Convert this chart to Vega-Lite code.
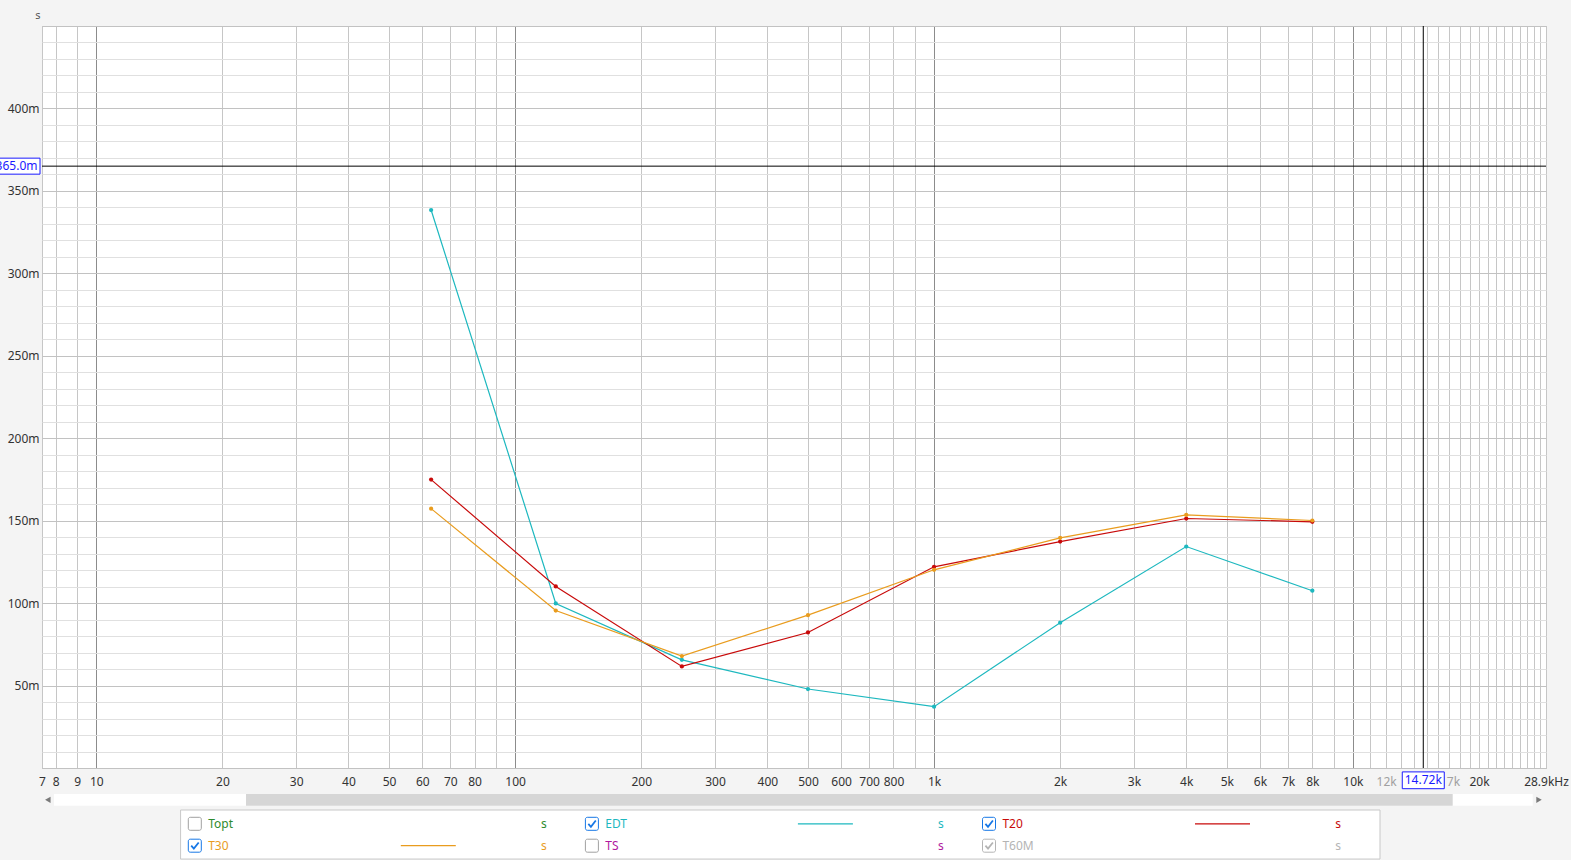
{
  "$schema": "https://vega.github.io/schema/vega-lite/v6.json",
  "autosize": {"type": "none"},
  "padding": {"left": 42, "top": 26, "right": 25, "bottom": 92},
  "width": 1504,
  "height": 742,
  "background": "#f4f4f4",
  "config": {
    "font": "Noto Sans",
    "view": {"fill": "white", "stroke": "#b4b4b4"}
  },
  "datasets": {
    "series": [
      {"series": "EDT", "freq": 63, "t": 0.3384},
      {"series": "EDT", "freq": 125, "t": 0.0998},
      {"series": "EDT", "freq": 250, "t": 0.0656},
      {"series": "EDT", "freq": 500, "t": 0.0479},
      {"series": "EDT", "freq": 1000, "t": 0.0372},
      {"series": "EDT", "freq": 2000, "t": 0.0881},
      {"series": "EDT", "freq": 4000, "t": 0.1343},
      {"series": "EDT", "freq": 8000, "t": 0.1075},
      {"series": "T20", "freq": 63, "t": 0.1749},
      {"series": "T20", "freq": 125, "t": 0.1101},
      {"series": "T20", "freq": 250, "t": 0.0616},
      {"series": "T20", "freq": 500, "t": 0.0822},
      {"series": "T20", "freq": 1000, "t": 0.1220},
      {"series": "T20", "freq": 2000, "t": 0.1373},
      {"series": "T20", "freq": 4000, "t": 0.1513},
      {"series": "T20", "freq": 8000, "t": 0.1493},
      {"series": "T30", "freq": 63, "t": 0.1573},
      {"series": "T30", "freq": 125, "t": 0.0955},
      {"series": "T30", "freq": 250, "t": 0.0679},
      {"series": "T30", "freq": 500, "t": 0.0927},
      {"series": "T30", "freq": 1000, "t": 0.1202},
      {"series": "T30", "freq": 2000, "t": 0.1396},
      {"series": "T30", "freq": 4000, "t": 0.1535},
      {"series": "T30", "freq": 8000, "t": 0.1501}
    ],
    "cursor": [{"freq": 14720, "t": 0.365}],
    "legend": [
      {"name": "Topt", "c": 0, "r": 0, "state": "off", "line": false},
      {"name": "T30", "c": 0, "r": 1, "state": "on", "line": true},
      {"name": "EDT", "c": 1, "r": 0, "state": "on", "line": true},
      {"name": "TS", "c": 1, "r": 1, "state": "off", "line": false},
      {"name": "T20", "c": 2, "r": 0, "state": "on", "line": true},
      {"name": "T60M", "c": 2, "r": 1, "state": "grey", "line": false}
    ],
    "blank": [{}]
  },
  "resolve": {"scale": {"x": "independent", "y": "independent", "color": "independent", "stroke": "independent"}},
  "layer": [
    {
      "layer": [
        {
          "data": {"name": "series"},
          "mark": {"type": "line", "strokeWidth": 1.2},
          "encoding": {
            "x": {
              "field": "freq", "type": "quantitative",
              "scale": {"type": "log", "domain": [7.42, 28900], "nice": false},
              "axis": {
                "values": [7.42, 8, 9, 10, 20, 30, 40, 50, 60, 70, 80, 90, 100, 200, 300, 400, 500, 600, 700, 800, 900, 1000, 2000, 3000, 4000, 5000, 6000, 7000, 8000, 9000, 10000, 11000, 12000, 13000, 14000, 15000, 16000, 17000, 18000, 19000, 20000, 21000, 22000, 23000, 24000, 25000, 26000, 27000, 28000, 28900],
                "tickCount": 1000,
                "labelExpr": "datum.value < 7.5 ? '7' : datum.value == 28900 ? '28.9kHz' : indexof([8,9,10,20,30,40,50,60,70,80,100,200,300,400,500,600,700,800,1000,2000,3000,4000,5000,6000,7000,8000,10000,12000,17000,20000], datum.value) >= 0 ? format(datum.value, '~s') : ''",
                "grid": true,
                "gridColor": {"condition": {"test": "datum.value == 10 || datum.value == 100 || datum.value == 1000 || datum.value == 10000", "value": "#8c8c8c"}, "value": "#c6c6c6"},
                "gridWidth": 1,
                "ticks": false,
                "tickSize": 0,
                "domain": false,
                "labelPadding": 8,
                "labelBaseline": "top",
                "labelFontSize": 12,
                "labelFont": "Noto Sans",
                "labelColor": {"condition": {"test": "datum.value == 12000 || datum.value == 17000", "value": "#a0a0a0"}, "value": "#333333"},
                "labelOverlap": false,
                "labelBound": false,
                "labelFlush": false,
                "title": null
              }
            },
            "y": {
              "field": "t", "type": "quantitative",
              "scale": {"domain": [0, 0.45], "nice": false, "zero": false},
              "axis": {
                "values": [0, 0.01, 0.02, 0.03, 0.04, 0.05, 0.06, 0.07, 0.08, 0.09, 0.1, 0.11, 0.12, 0.13, 0.14, 0.15, 0.16, 0.17, 0.18, 0.19, 0.2, 0.21, 0.22, 0.23, 0.24, 0.25, 0.26, 0.27, 0.28, 0.29, 0.3, 0.31, 0.32, 0.33, 0.34, 0.35, 0.36, 0.37, 0.38, 0.39, 0.4, 0.41, 0.42, 0.43, 0.44, 0.45],
                "tickCount": 1000,
                "labelExpr": "(datum.value > 0.001 && datum.value < 0.449 && abs(datum.value * 20 - round(datum.value * 20)) < 0.001) ? format(datum.value, '~s') : ''",
                "grid": true,
                "gridColor": {"condition": {"test": "abs(datum.value * 20 - round(datum.value * 20)) < 0.001", "value": "#c2c2c2"}, "value": "#e0e0e0"},
                "ticks": false,
                "tickSize": 0,
                "domain": false,
                "labelPadding": 3,
                "labelFontSize": 12,
                "labelFont": "Noto Sans",
                "labelColor": "#333333",
                "labelOverlap": false,
                "labelBound": false,
                "title": "s",
                "titleAngle": 0,
                "titleX": -4.5,
                "titleY": -11,
                "titleAlign": "center",
                "titleBaseline": "middle",
                "titleFontWeight": "normal",
                "titleFontSize": 11,
                "titleFont": "Noto Sans",
                "titleColor": "#555555"
              }
            },
            "color": {
              "field": "series", "type": "nominal",
              "scale": {"domain": ["EDT", "T20", "T30"], "range": ["#1db8bf", "#c80a0a", "#e99c1e"]},
              "legend": null
            }
          }
        },
        {
          "data": {"name": "series"},
          "mark": {"type": "point", "filled": true, "size": 18, "opacity": 1},
          "encoding": {
            "x": {"field": "freq", "type": "quantitative"},
            "y": {"field": "t", "type": "quantitative"},
            "color": {"field": "series", "type": "nominal", "legend": null}
          }
        },
        {
          "data": {"name": "cursor"},
          "mark": {"type": "rule", "color": "#000000", "strokeWidth": 1},
          "encoding": {"y": {"field": "t", "type": "quantitative"}}
        },
        {
          "data": {"name": "cursor"},
          "mark": {"type": "rule", "color": "#000000", "strokeWidth": 1},
          "encoding": {"x": {"field": "freq", "type": "quantitative"}}
        },
        {
          "data": {"name": "cursor"},
          "mark": {"type": "point", "shape": "M-1,-0.348H1V0.348H-1Z", "size": 2116, "filled": true, "fill": "white", "stroke": "#1a1aff", "strokeWidth": 1, "opacity": 1, "xOffset": -25},
          "encoding": {
            "x": {"datum": 7.42, "type": "quantitative"},
            "y": {"field": "t", "type": "quantitative"}
          }
        },
        {
          "data": {"name": "cursor"},
          "mark": {"type": "text", "align": "right", "baseline": "middle", "dx": -4.5, "fontSize": 12, "font": "Noto Sans", "color": "#1a1aff"},
          "encoding": {
            "x": {"datum": 7.42, "type": "quantitative"},
            "y": {"field": "t", "type": "quantitative"},
            "text": {"field": "t", "type": "quantitative", "format": ".4s"}
          }
        },
        {
          "data": {"name": "cursor"},
          "mark": {"type": "point", "shape": "M-1,-0.4H1V0.4H-1Z", "size": 1764, "filled": true, "fill": "white", "stroke": "#1a1aff", "strokeWidth": 1, "opacity": 1, "yOffset": 12.3},
          "encoding": {
            "x": {"field": "freq", "type": "quantitative"},
            "y": {"datum": 0, "type": "quantitative"}
          }
        },
        {
          "data": {"name": "cursor"},
          "mark": {"type": "text", "align": "center", "baseline": "middle", "dy": 12.3, "fontSize": 12, "font": "Noto Sans", "color": "#1a1aff"},
          "encoding": {
            "x": {"field": "freq", "type": "quantitative"},
            "y": {"datum": 0, "type": "quantitative"},
            "text": {"field": "freq", "type": "quantitative", "format": ".4s"}
          }
        }
      ]
    },
    {
      "layer": [
        {
          "data": {"name": "blank"},
          "mark": {"type": "rect", "fill": "white", "stroke": "#c8c8c8", "strokeWidth": 1},
          "encoding": {
            "x": {"datum": -0.0358, "type": "quantitative", "scale": {"type": "linear", "domain": [0, 1], "range": [152.8, 549.9], "nice": false, "zero": false}, "axis": null},
            "x2": {"datum": 2.9846},
            "y": {"datum": -0.63, "type": "quantitative", "scale": {"type": "linear", "domain": [0, 1], "range": [797.8, 819.7], "nice": false, "zero": false}, "axis": null},
            "y2": {"datum": 1.61}
          }
        },
        {
          "data": {"name": "blank"},
          "mark": {"type": "rect", "fill": "white"},
          "encoding": {
            "x": {"datum": -0.3546, "type": "quantitative", "scale": {"type": "linear", "domain": [0, 1], "range": [152.8, 549.9], "nice": false, "zero": false}, "axis": null},
            "x2": {"datum": 3.3692},
            "y": {"datum": -1.36, "type": "quantitative", "scale": {"type": "linear", "domain": [0, 1], "range": [797.8, 819.7], "nice": false, "zero": false}, "axis": null},
            "y2": {"datum": -0.826}
          }
        },
        {
          "data": {"name": "blank"},
          "mark": {"type": "rect", "fill": "#d6d6d6"},
          "encoding": {
            "x": {"datum": 0.1289, "type": "quantitative", "scale": {"type": "linear", "domain": [0, 1], "range": [152.8, 549.9], "nice": false, "zero": false}, "axis": null},
            "x2": {"datum": 3.1677},
            "y": {"datum": -1.36, "type": "quantitative", "scale": {"type": "linear", "domain": [0, 1], "range": [797.8, 819.7], "nice": false, "zero": false}, "axis": null},
            "y2": {"datum": -0.826}
          }
        },
        {
          "data": {"name": "blank"},
          "mark": {"type": "point", "shape": "triangle-left", "size": 40, "filled": true, "color": "#7a7a7a", "opacity": 1},
          "encoding": {
            "x": {"datum": -0.3702, "type": "quantitative", "scale": {"type": "linear", "domain": [0, 1], "range": [152.8, 549.9], "nice": false, "zero": false}, "axis": null},
            "y": {"datum": -1.093, "type": "quantitative", "scale": {"type": "linear", "domain": [0, 1], "range": [797.8, 819.7], "nice": false, "zero": false}, "axis": null}
          }
        },
        {
          "data": {"name": "blank"},
          "mark": {"type": "point", "shape": "triangle-right", "size": 40, "filled": true, "color": "#7a7a7a", "opacity": 1},
          "encoding": {
            "x": {"datum": 3.3851, "type": "quantitative", "scale": {"type": "linear", "domain": [0, 1], "range": [152.8, 549.9], "nice": false, "zero": false}, "axis": null},
            "y": {"datum": -1.093, "type": "quantitative", "scale": {"type": "linear", "domain": [0, 1], "range": [797.8, 819.7], "nice": false, "zero": false}, "axis": null}
          }
        },
        {
          "data": {"name": "legend"},
          "mark": {"type": "point", "shape": "M-0.7,-1H0.7A0.3,0.3 0 0 1 1,-0.7V0.7A0.3,0.3 0 0 1 0.7,1H-0.7A0.3,0.3 0 0 1 -1,0.7V-0.7A0.3,0.3 0 0 1 -0.7,-1Z", "size": 169, "filled": true, "fill": "white", "strokeWidth": 1, "opacity": 1},
          "encoding": {
            "x": {"field": "c", "type": "quantitative", "scale": {"type": "linear", "domain": [0, 1], "range": [152.8, 549.9], "nice": false, "zero": false}, "axis": null},
            "y": {"field": "r", "type": "quantitative", "scale": {"type": "linear", "domain": [0, 1], "range": [797.8, 819.7], "nice": false, "zero": false}, "axis": null},
            "stroke": {"field": "state", "type": "nominal", "scale": {"domain": ["off", "on", "grey"], "range": ["#a0a0a0", "#1677e6", "#b4b4b4"]}, "legend": null}
          }
        },
        {
          "data": {"name": "legend"},
          "transform": [{"filter": "datum.state != 'off'"}],
          "mark": {"type": "point", "shape": "M-0.55,0L-0.15,0.45L0.6,-0.5", "size": 169, "filled": false, "strokeWidth": 1.8, "opacity": 1},
          "encoding": {
            "x": {"field": "c", "type": "quantitative", "scale": {"type": "linear", "domain": [0, 1], "range": [152.8, 549.9], "nice": false, "zero": false}, "axis": null},
            "y": {"field": "r", "type": "quantitative", "scale": {"type": "linear", "domain": [0, 1], "range": [797.8, 819.7], "nice": false, "zero": false}, "axis": null},
            "stroke": {"field": "state", "type": "nominal", "legend": null}
          }
        },
        {
          "data": {"name": "legend"},
          "mark": {"type": "text", "align": "left", "baseline": "middle", "dx": 13.4, "fontSize": 12, "font": "Noto Sans"},
          "encoding": {
            "x": {"field": "c", "type": "quantitative", "scale": {"type": "linear", "domain": [0, 1], "range": [152.8, 549.9], "nice": false, "zero": false}, "axis": null},
            "y": {"field": "r", "type": "quantitative", "scale": {"type": "linear", "domain": [0, 1], "range": [797.8, 819.7], "nice": false, "zero": false}, "axis": null},
            "text": {"field": "name", "type": "nominal"},
            "color": {"field": "name", "type": "nominal", "scale": {"domain": ["Topt", "EDT", "T20", "T30", "TS", "T60M"], "range": ["#2e8b2e", "#1db8bf", "#c80a0a", "#e99c1e", "#b0189e", "#b4b4b4"]}, "legend": null}
          }
        },
        {
          "data": {"name": "legend"},
          "transform": [{"filter": "datum.line"}],
          "mark": {"type": "point", "shape": "M-1,0H1", "size": 3025, "filled": false, "strokeWidth": 1.2, "opacity": 1, "xOffset": 233.5},
          "encoding": {
            "x": {"field": "c", "type": "quantitative", "scale": {"type": "linear", "domain": [0, 1], "range": [152.8, 549.9], "nice": false, "zero": false}, "axis": null},
            "y": {"field": "r", "type": "quantitative", "scale": {"type": "linear", "domain": [0, 1], "range": [797.8, 819.7], "nice": false, "zero": false}, "axis": null},
            "color": {"field": "name", "type": "nominal", "legend": null}
          }
        },
        {
          "data": {"name": "legend"},
          "mark": {"type": "text", "align": "center", "baseline": "middle", "dx": 349, "fontSize": 12, "font": "Noto Sans", "text": "s"},
          "encoding": {
            "x": {"field": "c", "type": "quantitative", "scale": {"type": "linear", "domain": [0, 1], "range": [152.8, 549.9], "nice": false, "zero": false}, "axis": null},
            "y": {"field": "r", "type": "quantitative", "scale": {"type": "linear", "domain": [0, 1], "range": [797.8, 819.7], "nice": false, "zero": false}, "axis": null},
            "color": {"field": "name", "type": "nominal", "legend": null}
          }
        }
      ]
    }
  ]
}
